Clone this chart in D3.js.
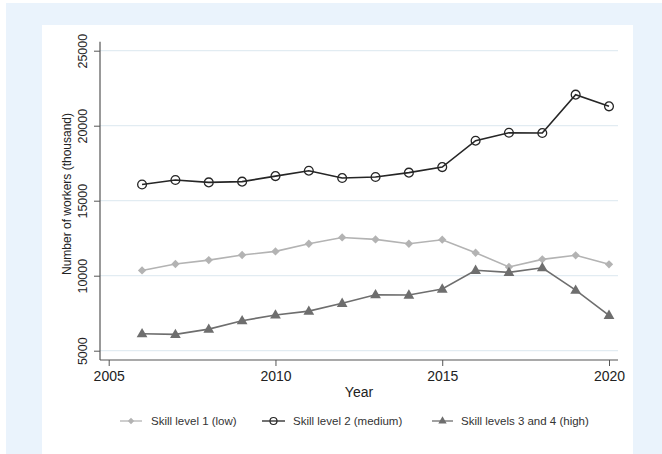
<!DOCTYPE html>
<html>
<head>
<meta charset="utf-8">
<script src="https://cdn.jsdelivr.net/npm/d3@7"></script>
<style>
  html, body { margin: 0; padding: 0; background: #ffffff; }
  svg { display: block; font-family: "Liberation Sans", Arial, sans-serif; }
</style>
</head>
<body>
<svg id="chart" width="662" height="454"></svg>
<script>
// Workers by skill level, thousands
const years = [2006, 2007, 2008, 2009, 2010, 2011, 2012, 2013, 2014, 2015, 2016, 2017, 2018, 2019, 2020];
const skillLow = [10350, 10780, 11040, 11380, 11620, 12130, 12550, 12420, 12130, 12400, 11530, 10580, 11090, 11360, 10760];
const skillMedium = [16080, 16380, 16220, 16270, 16640, 17000, 16510, 16580, 16870, 17240, 19000, 19530, 19510, 22070, 21290];
const skillHigh = [6130, 6090, 6440, 7000, 7380, 7640, 8160, 8730, 8710, 9110, 10360, 10220, 10530, 9040, 7360];
const seriesNames = ["Skill level 1 (low)", "Skill level 2 (medium)", "Skill levels 3 and 4 (high)"];
const yTicks = [5000, 10000, 15000, 20000, 25000];
const xTicks = [2005, 2010, 2015, 2020];

const svg = d3.select("#chart");

// page background and white plot panel
svg.append("rect").attr("x", 6).attr("y", 3).attr("width", 656).attr("height", 451).attr("fill", "#eaf3fc");
svg.append("rect").attr("x", 42).attr("y", 25).attr("width", 591).attr("height", 429).attr("fill", "#ffffff");

const x = d3.scaleLinear().domain([2005, 2020]).range([108.7, 609]);
const y = d3.scaleLinear().domain([5000, 25000]).range([350.7, 50.7]);

const plotLeft = 100, plotRight = 618, plotTop = 41.7, plotBottom = 360;

// horizontal gridlines
svg.append("g").selectAll("line").data(yTicks).join("line")
  .attr("x1", plotLeft).attr("x2", plotRight)
  .attr("y1", d => y(d)).attr("y2", d => y(d))
  .attr("stroke", "#e2ecf2").attr("stroke-width", 1.2);

// y axis
const yAxis = svg.append("g").attr("transform", `translate(${plotLeft},0)`)
  .call(d3.axisLeft(y).tickValues(yTicks).tickSize(6).tickPadding(3).tickFormat(d3.format("d")));
yAxis.select(".domain").remove();
yAxis.selectAll(".tick line").attr("stroke", "#555");
yAxis.selectAll(".tick text")
  .attr("x", null).attr("dy", null)
  .attr("transform", "translate(-17,0) rotate(-90)")
  .attr("text-anchor", "middle")
  .attr("dominant-baseline", "central")
  .attr("font-size", 12.5).attr("fill", "#222");
svg.append("line").attr("x1", plotLeft).attr("x2", plotLeft).attr("y1", plotTop).attr("y2", plotBottom)
  .attr("stroke", "#555").attr("stroke-width", 1.2);

// x axis
const xAxis = svg.append("g").attr("transform", `translate(0,${plotBottom})`)
  .call(d3.axisBottom(x).tickValues(xTicks).tickSize(6).tickPadding(5).tickFormat(d3.format("d")));
xAxis.select(".domain").remove();
xAxis.selectAll(".tick line").attr("stroke", "#555");
xAxis.selectAll(".tick text").attr("font-size", 14).attr("fill", "#222");
svg.append("line").attr("x1", plotLeft).attr("x2", plotRight).attr("y1", plotBottom).attr("y2", plotBottom)
  .attr("stroke", "#555").attr("stroke-width", 1.2);

// axis titles
svg.append("text").attr("x", (plotLeft + plotRight) / 2 + 0).attr("y", 397)
  .attr("text-anchor", "middle").attr("font-size", 14).attr("fill", "#222").text("Year");
svg.append("text").attr("transform", "translate(66.5,194) rotate(-90)")
  .attr("text-anchor", "middle").attr("dominant-baseline", "central")
  .attr("font-size", 12).attr("fill", "#222").text("Number of workers (thousand)");

// marker shapes
const diamond = d3.symbol().type(d3.symbolDiamond2).size(44);
const triangle = d3.symbol().type(d3.symbolTriangle).size(50);

const series = [
  { name: seriesNames[0], values: skillLow, color: "#b3b3b3", marker: "diamond" },
  { name: seriesNames[1], values: skillMedium, color: "#262626", marker: "circle" },
  { name: seriesNames[2], values: skillHigh, color: "#6e6e6e", marker: "triangle" }
];

const line = d3.line().x(d => x(d[0])).y(d => y(d[1]));

function drawMarker(g, kind, color) {
  if (kind === "circle") {
    g.append("circle").attr("r", 4.4).attr("fill", "none").attr("stroke", color).attr("stroke-width", 1.3);
  } else if (kind === "diamond") {
    g.append("path").attr("d", diamond).attr("fill", color);
  } else {
    g.append("path").attr("d", triangle).attr("transform", "translate(0,0.5)").attr("fill", color);
  }
}

series.forEach(s => {
  const pts = years.map((yr, i) => [yr, s.values[i]]);
  svg.append("path").datum(pts).attr("d", line)
    .attr("fill", "none").attr("stroke", s.color).attr("stroke-width", 1.6);
  const g = svg.append("g");
  pts.forEach(p => {
    const m = g.append("g").attr("transform", `translate(${x(p[0])},${y(p[1])})`);
    drawMarker(m, s.marker, s.color);
  });
});

// legend
const legendY = 421;
const legendItems = [
  { x0: 120, x1: 142, text: 151 },
  { x0: 262, x1: 285, text: 293 },
  { x0: 432, x1: 453, text: 461 }
];
series.forEach((s, i) => {
  const it = legendItems[i];
  svg.append("line").attr("x1", it.x0).attr("x2", it.x1).attr("y1", legendY).attr("y2", legendY)
    .attr("stroke", s.color).attr("stroke-width", 1.3);
  const m = svg.append("g").attr("transform", `translate(${(it.x0 + it.x1) / 2},${legendY})`);
  if (s.marker === "circle") {
    m.append("circle").attr("r", 3.5).attr("fill", "none").attr("stroke", s.color).attr("stroke-width", 1.2);
  } else if (s.marker === "diamond") {
    m.append("path").attr("d", d3.symbol().type(d3.symbolDiamond2).size(26)).attr("fill", s.color);
  } else {
    m.append("path").attr("d", d3.symbol().type(d3.symbolTriangle).size(30)).attr("fill", s.color);
  }
  svg.append("text").attr("x", it.text).attr("y", legendY).attr("dominant-baseline", "central")
    .attr("font-size", 11.5).attr("fill", "#333").text(s.name);
});
</script>
</body>
</html>
